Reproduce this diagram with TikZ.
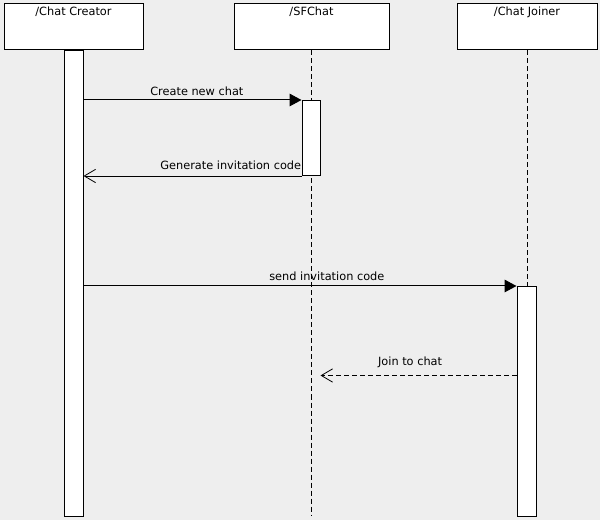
\documentclass[tikz,border=0pt]{standalone}
\usepackage{fontspec}
\setmainfont{DejaVu Sans}
\usetikzlibrary{calc,positioning}
\usetikzlibrary{arrows.meta}
\definecolor{bgGray}{HTML}{EEEEEE}

\begin{document}
\begin{tikzpicture}[x=0.75pt,y=-0.75pt,line width=0.75pt,
    every node/.style={font=\fontsize{8.5pt}{10pt}\selectfont},
    roleBox/.style={draw,fill=white,minimum height=34.5pt,inner sep=0pt,
        label={[anchor=north,inner sep=2pt]north:#1}},
    actBar/.style={draw,fill=white,minimum width=14.25pt,inner sep=0pt,anchor=north},
    lifeLine/.style={line width=0.6pt,dash pattern=on 3.75pt off 2.25pt},
    syncMsg/.style={-{Triangle[length=9pt,width=9.5pt]}},
    replyMsg/.style={-{Straight Barb[length=8.5pt,width=10pt]},line width=0.6pt},
    msgText/.style={above,inner sep=0pt,text depth=0pt}]

\fill[bgGray] (0,0) rectangle (600,520);

% the three roles
\node[roleBox=/Chat Creator,minimum width=104.25pt] (nCreator) at (73.5,27) {};
\node[roleBox=/SFChat,minimum width=116.25pt] (nSFChat) at (311.5,27) {};
\node[roleBox=/Chat Joiner,minimum width=105pt] (nJoiner) at (527,27) {};

\coordinate (cBottomPt) at (0,516);
\coordinate (cJoinPt) at (0,375.5);

\foreach \n in {nSFChat,nJoiner}
{
    \draw[lifeLine] (\n.south) -- (\n.south |- cBottomPt);
}

% activation bars
\node[actBar,minimum height=349.5pt] (nCreatorAct) at (73.5,50) {};
\node[actBar,minimum width=13.5pt,minimum height=56.25pt] (nSFChatAct) at (311,100) {};
\node[actBar,minimum height=172.5pt] (nJoinerAct) at (526.5,286) {};

% messages
\draw[syncMsg] (nCreatorAct.east |- nSFChatAct.north) -- (nSFChatAct.north west)
    node[msgText,pos=0.52,yshift=3pt] {Create new chat};
\draw[replyMsg] (nSFChatAct.south west) -- (nCreatorAct.east |- nSFChatAct.south)
    node[msgText,pos=0,anchor=south east,yshift=4.5pt] {Generate invitation code};
\draw[syncMsg] (nCreatorAct.east |- nJoinerAct.north) -- (nJoinerAct.north west)
    node[msgText,pos=0.562,yshift=3.75pt] {send invitation code};
\draw[replyMsg,dash pattern=on 3.75pt off 2.25pt] (nJoinerAct.west |- cJoinPt) -- (nSFChatAct.east |- cJoinPt)
    node[msgText,pos=0.543,yshift=7.5pt] {Join to chat};
\end{tikzpicture}
\end{document}
